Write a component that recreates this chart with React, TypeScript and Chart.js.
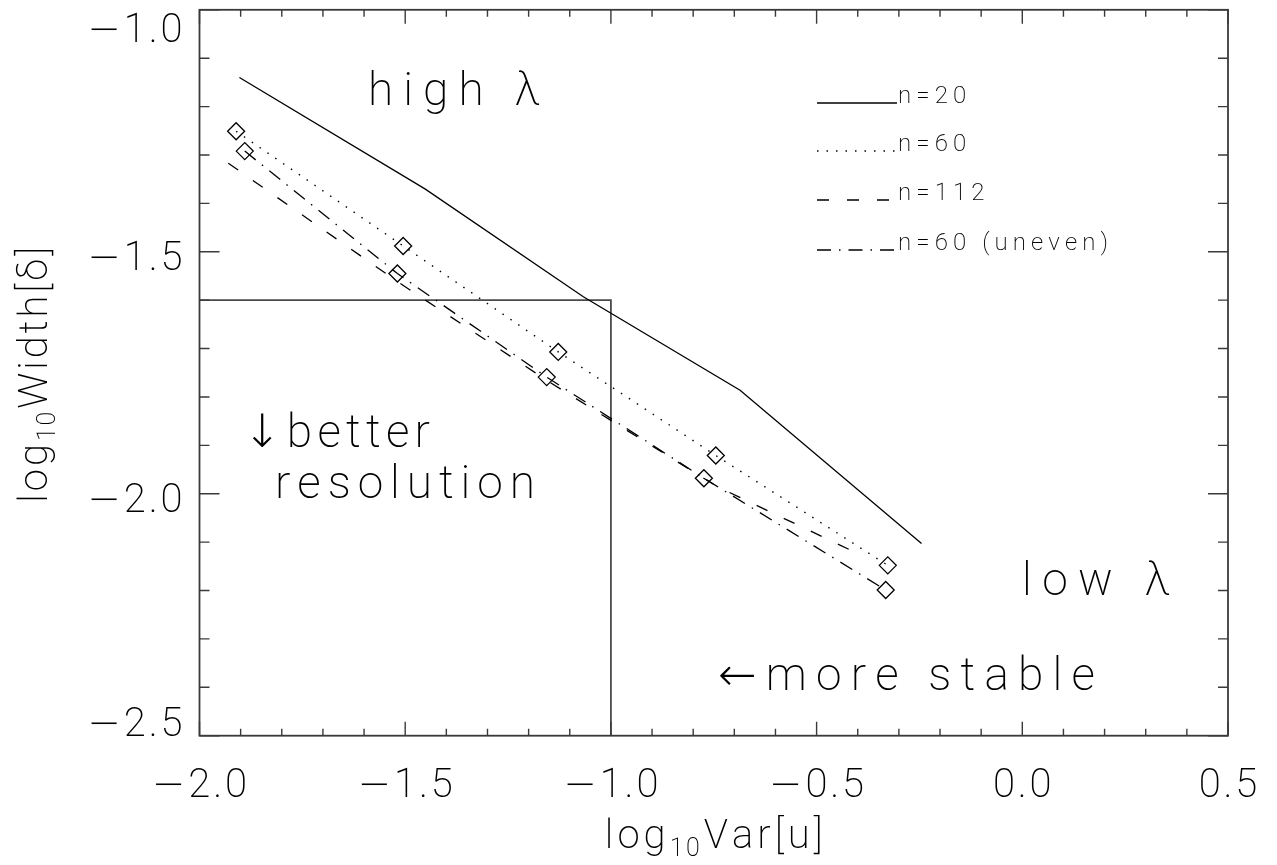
import React, { useEffect, useRef } from "react";
import { Chart, registerables } from "chart.js";

Chart.register(...registerables);

// ---------- data ----------
const n20X = [-1.903, -1.452, -1.067, -0.686, -0.245];
const n20Y = [-1.14, -1.37, -1.593, -1.786, -2.103];

const n60X = [-1.911, -1.505, -1.128, -0.745, -0.327];
const n60Y = [-1.251, -1.488, -1.707, -1.921, -2.148];

const n112X = [-1.93, -1.52, -1.15, -0.74, -0.399];
const n112Y = [-1.317, -1.561, -1.769, -1.986, -2.124];

const n60uX = [-1.89, -1.519, -1.156, -0.774, -0.332];
const n60uY = [-1.292, -1.545, -1.759, -1.968, -2.199];

const regionX = [-2.0, -1.0, -1.0];
const regionY = [-1.6, -1.6, -2.5];

const xTickValues = [-2.0, -1.5, -1.0, -0.5, 0.0, 0.5];
const xTickLabels = ["−2.0", "−1.5", "−1.0", "−0.5", "0.0", "0.5"];
const yTickValues = [-1.0, -1.5, -2.0, -2.5];
const yTickLabels = ["−1.0", "−1.5", "−2.0", "−2.5"];

const seriesLabels = ["n=20", "n=60", "n=112", "n=60 (uneven)"];
const seriesDashes: number[][] = [[], [1.5, 8], [12, 18], [14, 8, 1.5, 8]];

const xTitle = ["log", "10", "Var[u]"];
const yTitle = ["log", "10", "Width[δ]"];
const annotationTexts = ["high λ", "↓better", "resolution", "low λ", "←more stable"];

// ---------- helpers ----------
const W = 1277;
const H = 865;
const FAM = "Roboto, 'DejaVu Sans', sans-serif";
const WEIGHT = 200;

const pts = (xs: number[], ys: number[]) => xs.map((x, i) => ({ x, y: ys[i] }));

let curSize = 20;
function setFont(ctx: CanvasRenderingContext2D, size: number) {
  curSize = size;
  ctx.font = `${WEIGHT} ${size}px ${FAM}`;
}
function withCharFont(ctx: CanvasRenderingContext2D, c: string, fn: () => number) {
  if (c === "−") {
    const prev = ctx.font;
    ctx.font = `200 ${curSize}px 'DejaVu Sans', sans-serif`;
    const r = fn();
    ctx.font = prev;
    return r;
  }
  return fn();
}
function charW(ctx: CanvasRenderingContext2D, c: string) {
  return withCharFont(ctx, c, () => ctx.measureText(c).width);
}
function spacedWidth(ctx: CanvasRenderingContext2D, s: string, ls: number) {
  let w = 0;
  const chars = Array.from(s);
  chars.forEach((c, i) => {
    w += charW(ctx, c) + (i < chars.length - 1 ? ls : 0);
  });
  return w;
}
function spacingFor(ctx: CanvasRenderingContext2D, s: string, size: number, target: number) {
  setFont(ctx, size);
  const n = Array.from(s).length;
  const w0 = spacedWidth(ctx, s, 0);
  return n > 1 ? (target - w0) / (n - 1) : 0;
}
function drawSpaced(ctx: CanvasRenderingContext2D, s: string, x: number, y: number, ls: number) {
  let cx = x;
  for (const c of Array.from(s)) {
    const w = withCharFont(ctx, c, () => {
      ctx.fillText(c, cx, y);
      return ctx.measureText(c).width;
    });
    cx += w + ls;
  }
  return cx;
}

const decorPlugin = {
  id: "decor",
  afterDatasetsDraw(chart: any) {
    const ctx: CanvasRenderingContext2D = chart.ctx;
    const a = chart.chartArea;
    const xs = chart.scales.x;
    const ys = chart.scales.y;
    ctx.save();
    ctx.fillStyle = "#000";
    ctx.textBaseline = "alphabetic";
    ctx.textAlign = "left";

    // frame
    ctx.strokeStyle = "#3a3a3a";
    ctx.lineWidth = 1.8;
    ctx.setLineDash([]);
    ctx.strokeRect(a.left, a.top, a.right - a.left, a.bottom - a.top);

    // ticks
    ctx.lineWidth = 1.4;
    ctx.beginPath();
    for (let i = 0; i <= 25; i++) {
      const v = xs.min + i * 0.1;
      const px = xs.getPixelForValue(v);
      const L = i % 5 === 0 ? 14 : 7;
      ctx.moveTo(px, a.bottom);
      ctx.lineTo(px, a.bottom - L);
      ctx.moveTo(px, a.top);
      ctx.lineTo(px, a.top + L);
    }
    for (let i = 0; i <= 15; i++) {
      const v = ys.min + i * 0.1;
      const py = ys.getPixelForValue(v);
      const L = i % 5 === 0 ? 20 : 10;
      ctx.moveTo(a.left, py);
      ctx.lineTo(a.left + L, py);
      ctx.moveTo(a.right, py);
      ctx.lineTo(a.right - L, py);
    }
    ctx.stroke();

    // tick labels
    const tickSize = 40;
    const tls = spacingFor(ctx, "−2.0", tickSize, 95);
    setFont(ctx, tickSize);
    const capH = 29;
    xTickValues.forEach((v, i) => {
      const s = xTickLabels[i];
      const w = spacedWidth(ctx, s, tls);
      const px = xs.getPixelForValue(v);
      drawSpaced(ctx, s, px - w / 2, a.bottom + 47 + capH / 2, tls);
    });
    yTickValues.forEach((v, i) => {
      const s = yTickLabels[i];
      const w = spacedWidth(ctx, s, tls);
      const py = ys.getPixelForValue(v);
      const cy = Math.min(Math.max(py + 4, a.top + 18), a.bottom - 14);
      drawSpaced(ctx, s, a.left - 17 - w, cy + capH / 2, tls);
    });

    // axis titles
    const titleSize = 40;
    const subSize = 25;
    const drawTitle = (parts: string[], cx: number, baseline: number, target: number) => {
      setFont(ctx, titleSize);
      const n = Array.from(parts[0] + parts[2]).length;
      const base1 = spacedWidth(ctx, parts[0], 0) + spacedWidth(ctx, parts[2], 0);
      setFont(ctx, subSize);
      const base2 = spacedWidth(ctx, parts[1], 0);
      const ls = (target - base1 - base2) / (n + 1 + 0.6);
      setFont(ctx, titleSize);
      const w1 = spacedWidth(ctx, parts[0], ls);
      const w3 = spacedWidth(ctx, parts[2], ls);
      setFont(ctx, subSize);
      const w2 = spacedWidth(ctx, parts[1], ls * 0.6);
      const total = w1 + ls + w2 + ls + w3;
      let x0 = cx - total / 2;
      setFont(ctx, titleSize);
      drawSpaced(ctx, parts[0], x0, baseline, ls);
      x0 += w1 + ls;
      setFont(ctx, subSize);
      drawSpaced(ctx, parts[1], x0, baseline + 8, ls * 0.6);
      x0 += w2 + ls;
      setFont(ctx, titleSize);
      drawSpaced(ctx, parts[2], x0, baseline, ls);
    };
    drawTitle(xTitle, (a.left + a.right) / 2, 848, 222);
    ctx.save();
    ctx.translate(47, (a.top + a.bottom) / 2 + 2);
    ctx.rotate(-Math.PI / 2);
    drawTitle(yTitle, 0, 0, 259);
    ctx.restore();

    // legend
    const legSize = 24;
    const lls = spacingFor(ctx, "n=60 (uneven)", legSize, 210);
    setFont(ctx, legSize);
    const rows = [103, 151, 200, 250];
    ctx.strokeStyle = "#000";
    ctx.lineWidth = 1.3;
    seriesLabels.forEach((lab, i) => {
      ctx.setLineDash(seriesDashes[i]);
      ctx.beginPath();
      ctx.moveTo(817, rows[i]);
      ctx.lineTo(897, rows[i]);
      ctx.stroke();
      ctx.setLineDash([]);
      drawSpaced(ctx, lab, 898, rows[i], lls);
    });

    // annotations: [left, baseline, width]
    const annSize = 46;
    const annPos = [
      [368, 105, 172],
      [243, 447, 187],
      [275, 498, 260],
      [1022, 595, 148],
      [718, 690, 377],
    ];
    annotationTexts.forEach((t, i) => {
      const ls = spacingFor(ctx, t, annSize, annPos[i][2]);
      setFont(ctx, annSize);
      drawSpaced(ctx, t, annPos[i][0], annPos[i][1], ls);
    });

    ctx.restore();
  },
};

export default function App() {
  const ref = useRef<HTMLCanvasElement | null>(null);

  useEffect(() => {
    document.body.style.margin = "0";
    const canvas = ref.current;
    if (!canvas) return;
    const diamond = {
      pointStyle: "rectRot",
      pointRadius: 8.5,
      pointHoverRadius: 8.5,
      pointBorderWidth: 1.3,
      pointBorderColor: "#000",
      pointBackgroundColor: "rgba(0,0,0,0)",
    };
    const noPts = { pointRadius: 0, pointHoverRadius: 0 };
    const chart = new Chart(canvas, {
      type: "scatter",
      data: {
        datasets: [
          {
            label: seriesLabels[0],
            data: pts(n20X, n20Y),
            showLine: true,
            borderColor: "#000",
            borderWidth: 1.3,
            borderDash: seriesDashes[0],
            ...noPts,
          },
          {
            label: seriesLabels[1],
            data: pts(n60X, n60Y),
            showLine: true,
            borderColor: "#000",
            borderWidth: 1.4,
            borderDash: seriesDashes[1],
            ...diamond,
          },
          {
            label: seriesLabels[2],
            data: pts(n112X, n112Y),
            showLine: true,
            borderColor: "#000",
            borderWidth: 1.3,
            borderDash: seriesDashes[2],
            ...noPts,
          },
          {
            label: seriesLabels[3],
            data: pts(n60uX, n60uY),
            showLine: true,
            borderColor: "#000",
            borderWidth: 1.3,
            borderDash: seriesDashes[3],
            ...diamond,
          },
          {
            label: "region",
            data: pts(regionX, regionY),
            showLine: true,
            borderColor: "#4a4a4a",
            borderWidth: 1.8,
            ...noPts,
          },
        ],
      } as any,
      options: {
        animation: false,
        responsive: false,
        devicePixelRatio: 1,
        layout: { padding: { top: 5.8, right: 49, left: 0, bottom: 0 } },
        plugins: { legend: { display: false }, tooltip: { enabled: false } },
        elements: { line: { tension: 0, borderCapStyle: "butt" } },
        scales: {
          x: {
            type: "linear",
            min: -2.0,
            max: 0.5,
            ticks: { display: false },
            grid: { display: false },
            border: { display: false },
            afterFit: (s: any) => {
              s.height = H - 735.7;
            },
          },
          y: {
            type: "linear",
            min: -2.5,
            max: -1.0,
            ticks: { display: false },
            grid: { display: false },
            border: { display: false },
            afterFit: (s: any) => {
              s.width = 199.5;
            },
          },
        },
      } as any,
      plugins: [decorPlugin],
    });
    return () => chart.destroy();
  }, []);

  return (
    <div style={{ position: "absolute", left: 0, top: 0, width: W, height: H, background: "#fff" }}>
      <canvas ref={ref} width={W} height={H} style={{ width: W, height: H, display: "block" }} />
    </div>
  );
}
